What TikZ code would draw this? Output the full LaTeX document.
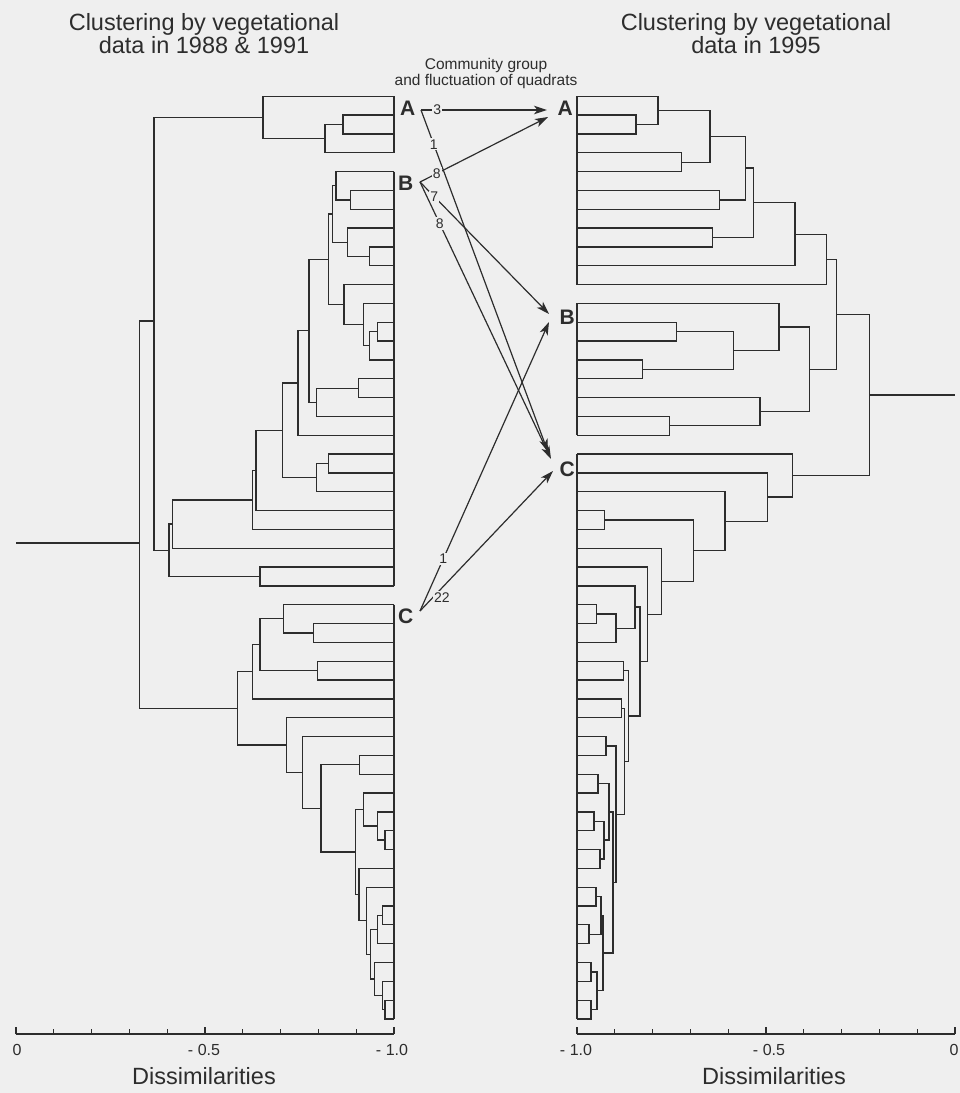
\documentclass[tikz,border=0pt]{standalone}
\usepackage{fontspec}
\setmainfont{Liberation Sans}
\usetikzlibrary{arrows.meta,calc}
\definecolor{paper}{RGB}{239,239,239}
\definecolor{ink}{RGB}{45,45,45}
% bracket of a dendrogram: parent #1 at x=#4, halfway between children #2 and #3
\newcommand{\mergeat}[4]{%
  \path let \p1=(#2), \p2=(#3) in coordinate (#1) at (#4pt,{0.5*(\y1+\y2)});
  \draw[tree] (#2) -| (#1) |- (#3);}
\tikzset{
  tree/.style={draw=ink, line width=1.3pt},
  leafbar/.style={draw=ink, line width=2.4pt},
  flow/.style={-{Stealth[length=13pt,width=8.5pt,inset=3.5pt]}, draw=ink, line width=1.2pt},
  num/.style={font=\fontsize{14}{14}\selectfont, fill=paper, inner sep=1.2pt, text=ink},
  grp/.style={font=\fontsize{21}{21}\selectfont\bfseries, text=ink, inner sep=0pt},
  ttl/.style={font=\fontsize{23.5}{23}\selectfont, align=center, text=ink},
  note/.style={font=\fontsize{15.5}{16}\selectfont, align=center, text=ink},
  ticklbl/.style={font=\fontsize{16}{16}\selectfont, text=ink},
  axis/.style={draw=ink, line width=1.2pt},
}

\begin{document}
\begin{tikzpicture}[x=1pt, y=-1pt]
  \fill[paper] (0,0) rectangle (960,1093);
  \useasboundingbox (0,0) rectangle (960,1093);

  % titles
  \node[ttl] (ttlleft) at (204,34) {Clustering by vegetational\\data in 1988 \& 1991};
  \node[ttl] (ttlright) at (756,34) {Clustering by vegetational\\data in 1995};
  \node[note] (cgroup) at (486,73) {Community group\\and fluctuation of quadrats};

  % leaves
  \foreach \i in {0,...,49} {
    \coordinate (l\i) at (394,{96.3+18.83*\i});
    \coordinate (r\i) at (577,{96.3+18.83*\i});
  }

  % left tree, group A
  \mergeat{a12}{l1}{l2}{343}
  \mergeat{a3}{a12}{l3}{325}
  \mergeat{ga}{l0}{a3}{263}
  % left tree, group B
  \mergeat{b56}{l5}{l6}{350.7}
  \mergeat{b4}{l4}{b56}{336}
  \mergeat{b89}{l8}{l9}{369.3}
  \mergeat{b7}{l7}{b89}{347.3}
  \mergeat{b49}{b4}{b7}{332.3}
  \mergeat{b1213}{l12}{l13}{377.3}
  \mergeat{b14}{b1213}{l14}{369.3}
  \mergeat{b11}{l11}{b14}{363.3}
  \mergeat{b10}{l10}{b11}{344}
  \mergeat{b414}{b49}{b10}{328.7}
  \mergeat{b1516}{l15}{l16}{358.7}
  \mergeat{b17}{b1516}{l17}{316.7}
  \mergeat{b417}{b414}{b17}{309}
  \mergeat{b18}{b417}{l18}{298}
  \mergeat{b1920}{l19}{l20}{328.7}
  \mergeat{b21}{b1920}{l21}{316.7}
  \mergeat{b421}{b18}{b21}{282.7}
  \mergeat{b22}{b421}{l22}{256}
  \mergeat{b23}{b22}{l23}{252.7}
  \mergeat{b24}{b23}{l24}{172.7}
  \mergeat{b2526}{l25}{l26}{260}
  \mergeat{gb}{b24}{b2526}{169}
  \coordinate (gab) at (154,321);
  \draw[tree] (ga) -| (gab) |- (gb);
  % left tree, group C
  \mergeat{c2829}{l28}{l29}{313.3}
  \mergeat{c27}{l27}{c2829}{283.3}
  \mergeat{c3031}{l30}{l31}{317.3}
  \mergeat{c2731}{c27}{c3031}{260}
  \mergeat{c32}{c2731}{l32}{252.3}
  \mergeat{c3536}{l35}{l36}{359.3}
  \mergeat{c3940}{l39}{l40}{385}
  \mergeat{c38}{l38}{c3940}{377.7}
  \mergeat{c37}{l37}{c38}{363.3}
  \mergeat{c4344}{l43}{l44}{382.3}
  \mergeat{c45}{c4344}{l45}{377.7}
  \mergeat{c4849}{l48}{l49}{385}
  \mergeat{c47}{l47}{c4849}{382.3}
  \mergeat{c46}{l46}{c47}{374.3}
  \mergeat{c4349}{c45}{c46}{370.7}
  \mergeat{c42}{l42}{c4349}{366.7}
  \mergeat{c41}{l41}{c42}{359}
  \mergeat{c3749}{c37}{c41}{355.3}
  \mergeat{c3549}{c3536}{c3749}{321}
  \mergeat{c34}{l34}{c3549}{302.3}
  \mergeat{c33}{l33}{c34}{286.7}
  \mergeat{gc}{c32}{c33}{237.3}
  \coordinate (lroot) at (139.3,543);
  \coordinate (lstem) at (16,543);
  \draw[tree] (gab) -| (lroot) |- (gc);
  \draw[tree] (lroot) -- (lstem);
  \draw[leafbar] (l0) -- (l3);
  \draw[leafbar] (l4) -- (l26);
  \draw[leafbar] (l27) -- (l49);

  % right tree, group A
  \mergeat{p12}{r1}{r2}{636}
  \mergeat{p0}{r0}{p12}{658}
  \mergeat{p34}{r3}{r4}{681.7}
  \mergeat{p04}{p0}{p34}{710}
  \mergeat{p56}{r5}{r6}{719.3}
  \mergeat{p06}{p04}{p56}{745.7}
  \mergeat{p78}{r7}{r8}{712.3}
  \mergeat{p08}{p06}{p78}{753.3}
  \mergeat{p9}{p08}{r9}{795}
  \mergeat{ha}{p9}{r10}{826.7}
  % right tree, group B
  \mergeat{q1213}{r12}{r13}{676.7}
  \mergeat{q1415}{r14}{r15}{642.7}
  \mergeat{q1215}{q1213}{q1415}{733.3}
  \mergeat{q11}{r11}{q1215}{779}
  \mergeat{q1718}{r17}{r18}{669.3}
  \mergeat{q16}{r16}{q1718}{760}
  \mergeat{hb}{q11}{q16}{809.3}
  \mergeat{hab}{ha}{hb}{836.7}
  % right tree, group C
  \mergeat{s2728}{r27}{r28}{596.7}
  \mergeat{s29}{s2728}{r29}{616}
  \mergeat{s26}{r26}{s29}{635}
  \mergeat{s3031}{r30}{r31}{623.3}
  \mergeat{s3233}{r32}{r33}{621.7}
  \mergeat{s3435}{r34}{r35}{606}
  \mergeat{s3637}{r36}{r37}{598}
  \mergeat{s3839}{r38}{r39}{594}
  \mergeat{s4041}{r40}{r41}{600}
  \mergeat{s3841}{s3839}{s4041}{604}
  \mergeat{s3641}{s3637}{s3841}{609}
  \mergeat{s4243}{r42}{r43}{596}
  \mergeat{s4445}{r44}{r45}{589}
  \mergeat{s4245}{s4243}{s4445}{601}
  \mergeat{s4647}{r46}{r47}{591}
  \mergeat{s4849}{r48}{r49}{591}
  \mergeat{s4649}{s4647}{s4849}{597}
  \mergeat{s4249}{s4245}{s4649}{603}
  \mergeat{s3649}{s3641}{s4249}{613}
  \mergeat{s3449}{s3435}{s3649}{616}
  \mergeat{s3249}{s3233}{s3449}{624.5}
  \mergeat{s3049}{s3031}{s3249}{628.3}
  \mergeat{s2649}{s26}{s3049}{640}
  \mergeat{s25}{r25}{s2649}{647.3}
  \mergeat{s24}{r24}{s25}{661.7}
  \mergeat{s2223}{r22}{r23}{604.3}
  \mergeat{s22}{s2223}{s24}{693.3}
  \mergeat{s21}{r21}{s22}{725}
  \mergeat{s20}{r20}{s21}{767.3}
  \mergeat{hc}{r19}{s20}{792.3}
  \mergeat{rroot}{hab}{hc}{869.3}
  \path let \p1=(rroot) in coordinate (rstem) at (955pt,\y1);
  \draw[tree] (rroot) -- (rstem);
  \draw[leafbar] (r0) -- (r10);
  \draw[leafbar] (r11) -- (r18);
  \draw[leafbar] (r19) -- (r49);

  % group letters
  \node[grp, anchor=base west] (la) at (400,115) {A};
  \node[grp, anchor=base west] (lb) at (398,190.7) {B};
  \node[grp, anchor=base west] (lc) at (398,623) {C};
  \node[grp, anchor=base east] (ra) at (573,115) {A};
  \node[grp, anchor=base east] (rb) at (575,324.5) {B};
  \node[grp, anchor=base east] (rc) at (575,476) {C};

  % fluctuation of quadrats
  \coordinate (srcA) at (421,110);
  \coordinate (srcB) at (420,182);
  \coordinate (srcC) at (420,611);
  \coordinate (tipA1) at (547,110);
  \coordinate (tipA2) at (548,117);
  \coordinate (tipB1) at (549,314);
  \coordinate (tipB2) at (549,322);
  \coordinate (tipC1) at (548,452);
  \coordinate (tipC2) at (551,459);
  \coordinate (tipC3) at (553,471);
  \draw[flow] (srcA) -- node[num, pos=0.13] {3} (tipA1);
  \draw[flow] (srcA) -- node[num, pos=0.10] {1} (tipC1);
  \draw[flow] (srcB) -- node[num, pos=0.13] {8} (tipA2);
  \draw[flow] (srcB) -- node[num, pos=0.11] {7} (tipB1);
  \draw[flow] (srcB) -- node[num, pos=0.15] {8} (tipC2);
  \draw[flow] (srcC) -- node[num, pos=0.18] {1} (tipB2);
  \draw[flow] (srcC) -- node[num, pos=0.12, xshift=6pt, yshift=-3pt] {22} (tipC3);

  % axes
  \draw[axis] (16,1034) -- (394,1034);
  \draw[axis] (577,1034) -- (955,1034);
  \foreach \k in {0,...,10} {
    \draw[axis] ({16+37.8*\k},1034) -- ++(0,-5);
    \draw[axis] ({577+37.8*\k},1034) -- ++(0,-5);
  }
  \foreach \k in {0,5,10} {
    \draw[axis] ({16+37.8*\k},1034) -- ++(0,-7.5);
    \draw[axis] ({577+37.8*\k},1034) -- ++(0,-7.5);
  }
  \node[ticklbl] (tl0) at (17,1050) {0};
  \node[ticklbl] (tl5) at (204,1050) {- 0.5};
  \node[ticklbl] (tl10) at (392,1050) {- 1.0};
  \node[ticklbl] (tr10) at (576,1050) {- 1.0};
  \node[ticklbl] (tr5) at (769,1050) {- 0.5};
  \node[ticklbl] (tr0) at (954,1050) {0};
  \node[ttl] (dleft) at (204,1076) {Dissimilarities};
  \node[ttl] (dright) at (774,1076) {Dissimilarities};
\end{tikzpicture}
\end{document}
